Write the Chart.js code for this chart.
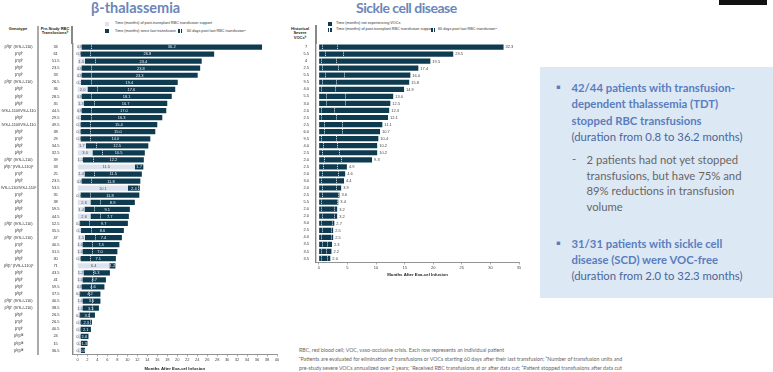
<!DOCTYPE html>
<html>
<head>
<meta charset="utf-8">
<script src="https://cdn.jsdelivr.net/npm/chart.js@4"></script>
<style>
  body { margin: 0; width: 773px; height: 372px; position: relative; overflow: hidden; background: #fff; font-family: 'Liberation Sans', Arial, sans-serif; }
  .abs { position: absolute; white-space: nowrap; }
  .title { font-family: Lato, sans-serif; font-weight: 700; font-size: 14.5px; color: #6a86ba; }
  .lg { font-size: 3.8px; color: #333; line-height: 4px; }
  .ico { position: absolute; width: 4px; height: 4px; }
  .hdr { font-size: 4px; font-weight: 700; color: #222; line-height: 4.7px; text-align: center; }
  .vline { position: absolute; }
  .panel { position: absolute; left: 540px; top: 67px; width: 233px; height: 231px; background: #dde8f5; }
  .txt { position: absolute; font-family: Lato, sans-serif; font-size: 11.3px; white-space: nowrap; }
  .b { font-weight: 700; color: #5a7dbd; }
  .n { color: #4a6698; }
  .g { color: #666; }
  .foot { position: absolute; left: 299px; top: 346px; font-family: Lato, sans-serif; font-size: 5.3px; line-height: 9px; color: #666; white-space: nowrap; }
</style>
</head>
<body>

<div class="abs title" style="left:91px; top:-1px;">β-thalassemia</div>
<div class="abs title" style="left:356px; top:-1px; font-size:14px; letter-spacing:-0.5px;">Sickle cell disease</div>
<div class="abs" style="left:719px; top:0; width:48px; height:4.7px; background:#111;"></div>

<!-- thalassemia legend -->
<div class="ico" style="left:105px; top:21.5px; background:#dde3ee;"></div>
<div class="abs lg" style="left:115px; top:21.3px;">Time (months) of post-transplant RBC transfusion support</div>
<div class="ico" style="left:105px; top:29px; background:#0f3b50;"></div>
<div class="abs lg" style="left:115px; top:28.8px;">Time (months) since last transfusion</div>
<div class="ico" style="left:178px; top:29px; background:#0f3b50;"><div style="position:absolute; left:1.6px; top:0; width:0; height:4px; border-left:0.8px dashed #fff;"></div></div>
<div class="abs lg" style="left:187px; top:28.8px;">60 days post last RBC transfusionᵃ</div>

<!-- sickle legend -->
<div class="ico" style="left:328px; top:21.5px; background:#0f3b50;"></div>
<div class="abs lg" style="left:336px; top:21.3px;">Time (months) not experiencing VOCs</div>
<div class="ico" style="left:328px; top:27.5px; background:#0f3b50;"><div style="position:absolute; left:1px; top:0; width:0.8px; height:4px; background:#fff;"></div></div>
<div class="abs lg" style="left:336px; top:27.3px;">Time (months) of post-transplant RBC transfusion support</div>
<div class="ico" style="left:431px; top:27.5px; background:#0f3b50;"><div style="position:absolute; left:1.6px; top:0; width:0; height:4px; border-left:0.8px dashed #fff;"></div></div>
<div class="abs lg" style="left:438px; top:27.3px;">60 days post last RBC transfusionᵃ</div>

<!-- column headers -->
<div class="abs hdr" style="left:3px; top:26.5px; width:30px;">Genotype</div>
<div class="abs hdr" style="left:40px; top:26.5px; width:30px;">Pre-Study RBC<br>Transfusionsᵇ</div>
<div class="abs hdr" style="left:286px; top:26.5px; width:28px;">Historical<br>Severe<br>VOCsᵇ</div>
<div class="vline" style="left:37px; top:26px; width:2px; height:18px; background:#aaa;"></div>
<div class="vline" style="left:71.3px; top:26px; width:1.4px; height:18px; background:#888;"></div>
<div class="vline" style="left:315.3px; top:25px; width:1.4px; height:19px; background:#888;"></div>

<canvas id="thal" width="290" height="372" style="position:absolute; left:0; top:0;"></canvas>
<canvas id="scd" width="245" height="282" style="position:absolute; left:285px; top:0;"></canvas>

<div class="panel"></div>
<div class="txt b" style="left:556px; top:80px;">▪</div>
<div class="txt" style="left:571.5px; top:80px; line-height:16.3px;">
  <span class="b">42/44 patients with transfusion-</span><br>
  <span class="b">dependent thalassemia (TDT)</span><br>
  <span class="b">stopped RBC transfusions</span><br>
  <span class="n">(duration from 0.8 to 36.2 months)</span>
</div>
<div class="txt g" style="left:572px; top:152px;">-</div>
<div class="txt g" style="left:586.5px; top:152px; line-height:15.7px;">
  2 patients had not yet stopped<br>
  transfusions, but have 75% and<br>
  89% reductions in transfusion<br>
  volume
</div>
<div class="txt b" style="left:556px; top:236px;">▪</div>
<div class="txt" style="left:571.5px; top:236px; line-height:16px;">
  <span class="b">31/31 patients with sickle cell</span><br>
  <span class="b">disease (SCD) were VOC-free</span><br>
  <span class="n">(duration from 2.0 to 32.3 months)</span>
</div>

<div class="foot">
  RBC, red blood cell; VOC, vaso-occlusive crisis. Each row represents an individual patient<br>
  ᵃPatients are evaluated for elimination of transfusions or VOCs starting 60 days after their last transfusion; ᵇNumber of transfusion units and<br>
  pre-study severe VOCs annualized over 2 years; ᶜReceived RBC transfusions at or after data cut; ᵈPatient stopped transfusions after data cut
</div>

<script>
// β-thalassemia, one entry per patient, top to bottom
const thalGenotypes = [
  'β⁰/β⁺ (IVS-I-110)', 'β⁺/β⁰', 'β⁺/β⁰', 'β⁰/β⁰', 'β⁺/β⁰', 'β⁰/β⁺ (IVS-I-110)', 'β⁰/β⁰', 'β⁰/β⁰',
  'β⁰/β⁰', 'IVS-I-110/IVS-I-110', 'β⁰/β⁰', 'IVS-I-110/IVS-I-110', 'β⁰/β⁰', 'β⁺/β⁰', 'β⁰/β⁰', 'β⁰/β⁰',
  'β⁰/β⁺ (IVS-I-110)', 'β⁰/β⁺ (IVS-I-110)ᶜ', 'β⁺/β⁰', 'β⁰/β⁰', 'IVS-I-110/IVS-I-110ᶜ', 'β⁺/β⁰', 'β⁰/β⁰', 'β⁰/β⁰',
  'β⁰/β⁰', 'β⁰/β⁺ (IVS-I-110)', 'β⁰/β⁰', 'β⁰/β⁺ (IVS-I-110)', 'β⁺/β⁰', 'β⁰/β⁰', 'β⁰/β⁰', 'β⁰/β⁺ (IVS-I-110)ᶜ',
  'β⁰/β⁰', 'β⁰/β⁰', 'β⁰/β⁰', 'β⁰/β⁰', 'β⁰/β⁺ (IVS-I-110)', 'β⁰/β⁺ (IVS-I-110)', 'β⁰/β⁰', 'β⁺/β⁰',
  'β⁺/β⁰', 'β⁰/β⁰ᵈ', 'β⁰/β⁰ᵈ', 'β⁰/β⁰ᵈ'
];
const thalPreStudy = [
  '34', '61', '51.5', '23.5', '33', '26.5', '36', '28.5', '35', '44.5', '29.5', '49.5', '38', '29', '34.5', '32.5',
  '39', '33', '25', '23.5', '53.5', '35', '38', '59.5', '44.5', '52.5', '35.5', '47', '40.5', '31.5', '30', '71',
  '43.5', '41', '59.5', '37.5', '40.5', '38.5', '26.5', '26.5', '40.5', '24', '15', '36.5'
];
const thalSupport = [
  0.8, 0.6, 1.5, 0.8, 0.8, 0.7, 2.0, 0.8, 1.3, 0.8, 0.7, 0.6, 0.6, 0.6, 1.7, 3.0,
  1.1, 11.5, 1.4, 0.8, 10.1, 0.6, 2.6, 1.4, 2.6, 0.4, 0.7, 1.5, 1.0, 1.0, 0.6, 6.4,
  1.2, 1.0, 0.8, 0.4, 1.0, 1.0, 0.4, 0.6, 0.6, 0.6, 0.7, 0.7
];
const thalSinceLast = [
  36.2, 26.8, 23.4, 23.8, 23.3, 19.4, 17.6, 18.1, 16.7, 17.0, 16.3, 15.4, 15.0, 14.0, 12.5, 10.5,
  12.2, 1.7, 11.5, 11.8, 2.4, 11.8, 8.9, 9.1, 7.7, 9.7, 8.6, 7.4, 7.4, 7.0, 7.1, 1.2,
  5.3, 4.7, 4.6, 4.2, 3.6, 3.3, 3.1, 2.3, 2.1, 1.6, 1.3, 0.8
];

// sickle cell disease, one entry per patient, top to bottom
const scdVocs = [
  '7', '5.5', '4', '2.5', '5.5', '9.5', '4.0', '5.5', '3.0', '2.0', '2.5', '2.5', '6.0', '9.5', '4.0', '2.5',
  '2.0', '2.5', '2.0', '3.0', '2.0', '2.5', '5.5', '2.0', '2.0', '3.0', '2.5', '4.0', '3.5', '3.5', '3.5'
];
const scdVocFree = [
  32.3, 23.5, 19.5, 17.4, 16.0, 15.8, 14.9, 13.0, 12.5, 12.3, 12.1, 11.1, 10.7, 10.4, 10.2, 10.2,
  9.3, 4.9, 4.6, 4.4, 3.9, 3.6, 3.4, 3.2, 3.2, 2.7, 2.5, 2.5, 2.3, 2.2, 2.0
];
const scdSupportEnd = [
  0.6, 1.0, 0.4, 0.6, 1.0, 0.5, 0.3, 1.3, 1.3, 0.4, 0.3, 0.9, 0.9, 0.4, 0.7, 0.6,
  0.9, 0.7, 0.5, 0.4, 0.5, 0.6, 0.3, 0.4, 0.5, 0.4, 0.5, 0.4, 0.6, 0.3, 0.4
];
const scdSixtyDay = [
  3.2, 4.3, 3.0, 3.4, 4.4, 3.0, 2.8, 4.5, 4.6, 2.7, 3.0, 4.0, 4.0, 3.0, 3.2, 3.5,
  3.9, 3.1, 3.3, 3.0, 3.0, 3.4, 3.2, 2.6, 2.6, 2.3, 2.2, 2.2, 1.4, 1.3, 1.4
];

const DARK = '#0f3b50';
const LIGHT = '#dde3ee';
Chart.defaults.font.family = "'Liberation Sans', Arial, sans-serif";
Chart.defaults.color = '#333';

function fixedWidth(w) { return scale => { scale.width = w; }; }
function fixedHeight(h) { return scale => { scale.height = h; }; }

// white dashed marks inside a bar row
function markPlugin(marksPerRow, barEnds) {
  return {
    id: 'marks',
    afterDatasetsDraw(chart) {
      const ctx = chart.ctx;
      const xs = chart.scales.x;
      const meta = chart.getDatasetMeta(0);
      ctx.save();
      ctx.strokeStyle = '#fff';
      ctx.lineWidth = 0.8;
      ctx.setLineDash([1, 0.8]);
      marksPerRow.forEach((marks, i) => {
        const el = meta.data[i];
        marks.forEach(m => {
          if (m >= barEnds[i] - 0.15) return;
          const px = Math.round(xs.getPixelForValue(m)) + 0.5;
          ctx.beginPath();
          ctx.moveTo(px, el.y - el.height / 2);
          ctx.lineTo(px, el.y + el.height / 2);
          ctx.stroke();
        });
      });
      ctx.restore();
    }
  };
}

const thalLabels = {
  id: 'thalLabels',
  afterDraw(chart) {
    const ctx = chart.ctx;
    ctx.save();
    ctx.font = "4px 'Liberation Sans', Arial, sans-serif";
    ctx.textAlign = 'center';
    ctx.textBaseline = 'middle';
    [0, 1].forEach(d => {
      const meta = chart.getDatasetMeta(d);
      const vals = chart.data.datasets[d].data;
      ctx.fillStyle = d === 0 ? '#555' : '#e8eef4';
      meta.data.forEach((el, i) => {
        ctx.fillText(vals[i].toFixed(1), (el.x + el.base) / 2, el.y + 0.3);
      });
    });
    ctx.restore();
  }
};

const scdLabels = {
  id: 'scdLabels',
  afterDraw(chart) {
    const ctx = chart.ctx;
    const meta = chart.getDatasetMeta(0);
    ctx.save();
    ctx.font = "4px 'Liberation Sans', Arial, sans-serif";
    ctx.fillStyle = '#444';
    ctx.textAlign = 'left';
    ctx.textBaseline = 'middle';
    meta.data.forEach((el, i) => ctx.fillText(scdVocFree[i].toFixed(1), el.x + 2, el.y + 0.3));
    ctx.restore();
  }
};

const axisTitleFont = { size: 4.3, weight: 'bold' };
const tickFont = { size: 4 };
const noGrid = { display: false, drawTicks: false };

new Chart(document.getElementById('thal'), {
  type: 'bar',
  data: {
    labels: thalGenotypes,
    datasets: [
      { data: thalSupport, backgroundColor: LIGHT, barPercentage: 0.74, categoryPercentage: 1 },
      { data: thalSinceLast, backgroundColor: DARK, barPercentage: 0.74, categoryPercentage: 1 }
    ]
  },
  options: {
    indexAxis: 'y',
    responsive: false,
    animation: false,
    layout: { padding: { top: 43.5, right: 13, bottom: 0, left: 0 } },
    plugins: { legend: { display: false }, tooltip: { enabled: false } },
    scales: {
      x: {
        stacked: true, min: -1, max: 40,
        afterFit: fixedHeight(18),
        ticks: { stepSize: 2, includeBounds: false, font: tickFont, padding: 1, maxRotation: 0, color: '#444' },
        grid: { display: true, drawOnChartArea: false, tickLength: 2.5, color: '#777', lineWidth: 0.6 },
        border: { display: true, color: '#777', width: 0.8 },
        title: { display: true, text: 'Months After Exa-cel Infusion', font: axisTitleFont, color: '#222', padding: { top: 0, bottom: 1 } }
      },
      y: {
        stacked: true, position: 'left', weight: 1,
        afterFit: fixedWidth(34.5),
        ticks: {
          autoSkip: false, font: tickFont, color: '#333', crossAlign: 'center', padding: 13,
          callback: (v, i) => thalPreStudy[i]
        },
        grid: noGrid,
        border: { display: true, color: '#888', width: 1.4 }
      },
      yg: {
        type: 'category', labels: thalGenotypes, offset: true, position: 'left', weight: 2,
        afterFit: fixedWidth(38),
        ticks: { autoSkip: false, font: tickFont, color: '#333', crossAlign: 'center', padding: 1.5 },
        grid: noGrid,
        border: { display: true, color: '#aaa', width: 2 }
      }
    }
  },
  plugins: [markPlugin(thalSupport.map(s => [s + 2]), thalSupport.map((s, i) => s + thalSinceLast[i])), thalLabels]
});

new Chart(document.getElementById('scd'), {
  type: 'bar',
  data: {
    labels: scdVocs,
    datasets: [
      { data: scdVocFree, backgroundColor: DARK, barPercentage: 0.74, categoryPercentage: 1 }
    ]
  },
  options: {
    indexAxis: 'y',
    responsive: false,
    animation: false,
    layout: { padding: { top: 43.5, right: 11, bottom: 4, left: 0 } },
    plugins: { legend: { display: false }, tooltip: { enabled: false } },
    scales: {
      x: {
        min: -0.5, max: 35,
        afterFit: fixedHeight(16),
        ticks: { stepSize: 5, includeBounds: false, font: tickFont, padding: 1, maxRotation: 0, color: '#444' },
        grid: { display: true, drawOnChartArea: false, tickLength: 2.5, color: '#777', lineWidth: 0.6 },
        border: { display: true, color: '#777', width: 0.8 },
        title: { display: true, text: 'Months After Exa-cel Infusion', font: axisTitleFont, color: '#222', padding: { top: 0, bottom: 1 } }
      },
      y: {
        position: 'left',
        afterFit: fixedWidth(31),
        ticks: { autoSkip: false, font: tickFont, color: '#333', crossAlign: 'center', padding: 7 },
        grid: noGrid,
        border: { display: true, color: '#888', width: 1.4 }
      }
    }
  },
  plugins: [markPlugin(scdSupportEnd.map((s, i) => [s, scdSixtyDay[i]]), scdVocFree), scdLabels]
});
</script>
</body>
</html>
